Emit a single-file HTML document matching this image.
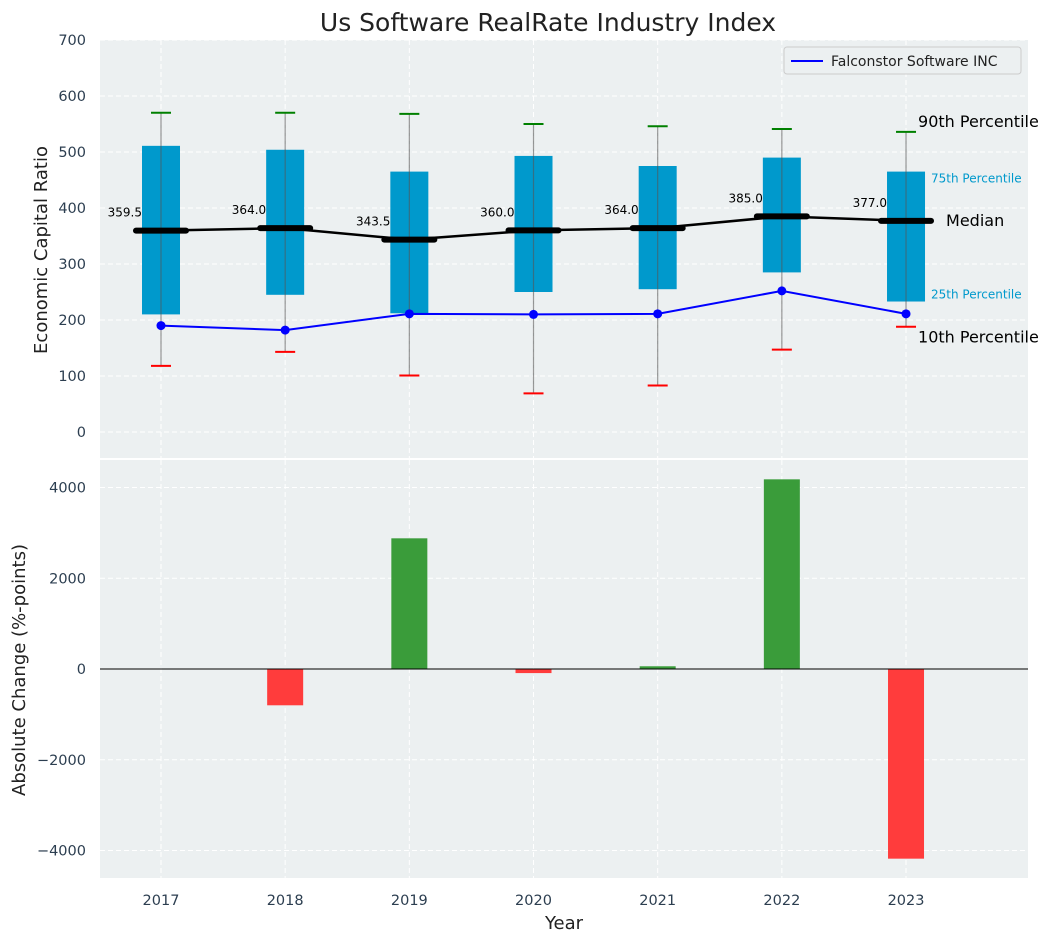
<!DOCTYPE html>
<html><head><meta charset="utf-8"><style>
body{margin:0;background:#fff;font-family:"Liberation Sans","DejaVu Sans",sans-serif}
svg text{font-family:"DejaVu Sans","Liberation Sans",sans-serif}
</style></head><body>
<svg id="c" width="1053" height="942" xmlns="http://www.w3.org/2000/svg"></svg>
<script>
const years=[2017,2018,2019,2020,2021,2022,2023];
const p10=[118,143,101,69,83,147,188];
const p25=[210,245,212,250,255,285,233];
const p50=[359.5,364,343.5,360,364,385,377];
const p75=[511,504,465,493,475,490,465];
const p90=[570,570,568,550,546,541,536];
const company=[190,182,211,210,211,252,211];
const changes=[0,-800,2880,-90,60,4180,-4180];
const topTicks=[0,100,200,300,400,500,600,700];
const botTicks=[-4000,-2000,0,2000,4000];

const svg=document.getElementById('c');
const NS='http://www.w3.org/2000/svg';
function el(t,a,txt){const e=document.createElementNS(NS,t);for(const k in a)e.setAttribute(k,a[k]);if(txt!==undefined)e.textContent=txt;svg.appendChild(e);return e;}
const L=100,R=1028;
const x=i=>161+i*124.17;
const yT=v=>432-v*0.56;
const yB=v=>669-v*0.045375;

let e;
e=el('rect',{x:L,y:40,width:R-L,height:418,fill:'#ecf0f1'});


e=el('rect',{x:L,y:460,width:R-L,height:418,fill:'#ecf0f1'});



topTicks.forEach(t=>{
 e=el('line',{x1:L,x2:R,y1:yT(t),y2:yT(t),stroke:'#fff','stroke-dasharray':'5,3','stroke-width':1});
 
 
 e=el('text',{x:86,y:yT(t)+5,'text-anchor':'end','font-size':14.5,fill:'#2c3e50'},t);
 
 
});
botTicks.forEach(t=>{
 e=el('line',{x1:L,x2:R,y1:yB(t),y2:yB(t),stroke:'#fff','stroke-dasharray':'5,3','stroke-width':1});
 
 
 e=el('text',{x:86,y:yB(t)+5,'text-anchor':'end','font-size':14.5,fill:'#2c3e50'},t<0?'\u2212'+(-t):t);
 
 
});
years.forEach((yr,i)=>{
 e=el('line',{x1:x(i),x2:x(i),y1:40,y2:458,stroke:'#fff','stroke-dasharray':'5,3'});
 
 
 e=el('line',{x1:x(i),x2:x(i),y1:460,y2:878,stroke:'#fff','stroke-dasharray':'5,3'});
 
 
 e=el('text',{x:x(i),y:905,'text-anchor':'middle','font-size':14.5,fill:'#2c3e50'},yr);
 
 
});

years.forEach((yr,i)=>{
 const cx=x(i);
 e=el('rect',{x:cx-19,y:yT(p75[i]),width:38,height:yT(p25[i])-yT(p75[i]),fill:'#0099cc'});
 
 
 e=el('line',{x1:cx,x2:cx,y1:yT(p90[i]),y2:yT(p10[i]),stroke:'#555','stroke-opacity':0.6,'stroke-width':1.2});
 
 
 e=el('line',{x1:cx-10,x2:cx+10,y1:yT(p90[i]),y2:yT(p90[i]),stroke:'green','stroke-width':2});
 
 
 e=el('line',{x1:cx-10,x2:cx+10,y1:yT(p10[i]),y2:yT(p10[i]),stroke:'red','stroke-width':2});
 
 
});
e=el('polyline',{points:years.map((y,i)=>x(i)+','+yT(p50[i])).join(' '),fill:'none',stroke:'#000','stroke-width':2.5});


years.forEach((yr,i)=>{
 const cx=x(i),cy=yT(p50[i]);
 e=el('line',{x1:cx-25,x2:cx+25,y1:cy,y2:cy,stroke:'#000','stroke-width':6,'stroke-linecap':'round'});
 
 
 e=el('text',{x:cx-19,y:cy-14,'text-anchor':'end','font-size':12,fill:'#000'},p50[i].toFixed(1));
 
 
});
e=el('polyline',{points:years.map((y,i)=>x(i)+','+yT(company[i])).join(' '),fill:'none',stroke:'blue','stroke-width':2});


years.forEach((yr,i)=>{
 e=el('circle',{cx:x(i),cy:yT(company[i]),r:4.5,fill:'blue'});
 
 
});
const li=6,lx=x(li);
[[lx+12,yT(p90[li])-5,'90th Percentile',16,'#000'],[lx+25,yT(p75[li])+11,'75th Percentile',12,'#0099cc'],[lx+40,yT(p50[li])+5,'Median',16,'#000'],[lx+25,yT(p25[li])-3,'25th Percentile',12,'#0099cc'],[lx+12,yT(p10[li])+16,'10th Percentile',16,'#000']].forEach(a=>{
 e=el('text',{x:a[0],y:a[1],'font-size':a[3],fill:a[4]},a[2]);
 
 
});
e=el('rect',{x:784,y:47,width:237,height:27,fill:'#ecf0f1',stroke:'#ccc',rx:3});


e=el('line',{x1:791,x2:823,y1:61,y2:61,stroke:'blue','stroke-width':2});


e=el('text',{x:831,y:66,'font-size':14,fill:'#222'},'Falconstor Software INC');



years.forEach((yr,i)=>{
 const v=changes[i];if(v===0)return;
 const y0=yB(Math.max(v,0)),h=Math.abs(yB(v)-yB(0));
 e=el('rect',{x:x(i)-18,y:y0,width:36,height:h,fill:v>0?'#3a9c3a':'#ff3c3c'});
 
 
});
e=el('line',{x1:L,x2:R,y1:yB(0),y2:yB(0),stroke:'#000','stroke-width':1});



e=el('text',{x:548,y:31,'text-anchor':'middle','font-size':25,fill:'#222'},'Us Software RealRate Industry Index');


e=el('text',{x:0,y:0,'text-anchor':'middle','font-size':18,fill:'#222',transform:'translate(47,250) rotate(-90)'},'Economic Capital Ratio');


e=el('text',{x:0,y:0,'text-anchor':'middle','font-size':18,fill:'#222',transform:'translate(25,670) rotate(-90)'},'Absolute Change (%-points)');


e=el('text',{x:564,y:929,'text-anchor':'middle','font-size':18,fill:'#222'},'Year');


</script>
</body></html>
